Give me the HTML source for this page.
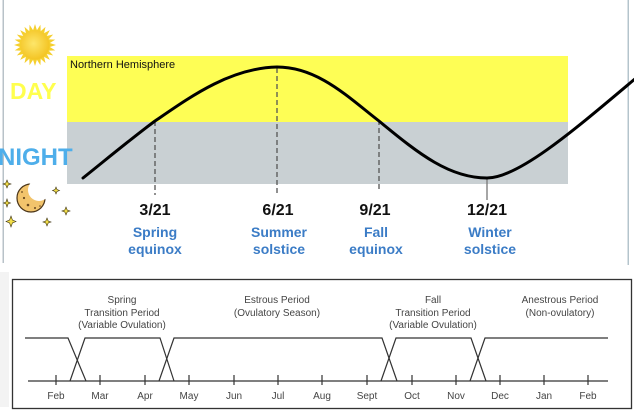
<!DOCTYPE html>
<html><head><meta charset="utf-8"><style>
html,body{margin:0;padding:0;background:#fff;}
body{width:634px;height:412px;overflow:hidden;}
svg{display:block;}
</style></head><body>
<svg width="634" height="412" viewBox="0 0 634 412" xmlns="http://www.w3.org/2000/svg" font-family="Liberation Sans, Arial, sans-serif">
  <defs>
    <radialGradient id="sg" cx="0.45" cy="0.45" r="0.6">
      <stop offset="0" stop-color="#fde66a"/>
      <stop offset="1" stop-color="#f3c21e"/>
    </radialGradient>
    <mask id="mm">
      <rect x="0" y="170" width="80" height="60" fill="#fff"/>
      <circle cx="39" cy="190" r="11" fill="#000"/>
    </mask>
  </defs>
  <!-- side lines -->
  <rect x="2.5" y="0" width="1.5" height="263" fill="#b8c2c8"/>
  <rect x="627.5" y="0" width="1.5" height="265" fill="#b4c4cc"/>
  <rect x="0" y="272" width="9" height="135" fill="#f3f3f3"/>

  <!-- sun -->
  <g fill="#f5cf2e">
    <polygon points="35,24 32.8,31 37.2,31" transform="rotate(0 35 45)"/>
    <polygon points="35,24 32.8,31 37.2,31" transform="rotate(15 35 45)"/>
    <polygon points="35,24 32.8,31 37.2,31" transform="rotate(30 35 45)"/>
    <polygon points="35,24 32.8,31 37.2,31" transform="rotate(45 35 45)"/>
    <polygon points="35,24 32.8,31 37.2,31" transform="rotate(60 35 45)"/>
    <polygon points="35,24 32.8,31 37.2,31" transform="rotate(75 35 45)"/>
    <polygon points="35,24 32.8,31 37.2,31" transform="rotate(90 35 45)"/>
    <polygon points="35,24 32.8,31 37.2,31" transform="rotate(105 35 45)"/>
    <polygon points="35,24 32.8,31 37.2,31" transform="rotate(120 35 45)"/>
    <polygon points="35,24 32.8,31 37.2,31" transform="rotate(135 35 45)"/>
    <polygon points="35,24 32.8,31 37.2,31" transform="rotate(150 35 45)"/>
    <polygon points="35,24 32.8,31 37.2,31" transform="rotate(165 35 45)"/>
    <polygon points="35,24 32.8,31 37.2,31" transform="rotate(180 35 45)"/>
    <polygon points="35,24 32.8,31 37.2,31" transform="rotate(195 35 45)"/>
    <polygon points="35,24 32.8,31 37.2,31" transform="rotate(210 35 45)"/>
    <polygon points="35,24 32.8,31 37.2,31" transform="rotate(225 35 45)"/>
    <polygon points="35,24 32.8,31 37.2,31" transform="rotate(240 35 45)"/>
    <polygon points="35,24 32.8,31 37.2,31" transform="rotate(255 35 45)"/>
    <polygon points="35,24 32.8,31 37.2,31" transform="rotate(270 35 45)"/>
    <polygon points="35,24 32.8,31 37.2,31" transform="rotate(285 35 45)"/>
    <polygon points="35,24 32.8,31 37.2,31" transform="rotate(300 35 45)"/>
    <polygon points="35,24 32.8,31 37.2,31" transform="rotate(315 35 45)"/>
    <polygon points="35,24 32.8,31 37.2,31" transform="rotate(330 35 45)"/>
    <polygon points="35,24 32.8,31 37.2,31" transform="rotate(345 35 45)"/>
  </g>
  <circle cx="35" cy="45" r="14.5" fill="url(#sg)"/>

  <!-- day/night bands -->
  <rect x="67" y="56" width="501" height="66" fill="#fefe55"/>
  <rect x="67" y="122" width="501" height="62" fill="#c9d0d3"/>
  <text x="70" y="68" font-size="11" fill="#111">Northern Hemisphere</text>

  <text x="10" y="99" font-size="23" font-weight="bold" fill="#ffff4e">DAY</text>
  <text x="-2" y="165" font-size="24" font-weight="bold" fill="#4eaeea">NIGHT</text>

  <!-- moon -->
  <g mask="url(#mm)">
    <circle cx="31" cy="198" r="14" fill="#f2c46c" stroke="#4a3418" stroke-width="1.2"/>
  </g>
  <g fill="#6a4a20">
    <circle cx="24" cy="198" r="1.1"/><circle cx="28" cy="205" r="1.3"/><circle cx="35" cy="208" r="1"/><circle cx="22" cy="192" r="0.9"/><circle cx="40" cy="206" r="0.8"/>
  </g>
  <!-- stars -->
  <g fill="#f4e04a" stroke="#3a3010" stroke-width="0.6">
    <path d="M7,180 L8.2,183 L11,184 L8.2,185 L7,188 L5.8,185 L3,184 L5.8,183 Z"/>
    <path d="M56,187 L57,189.5 L59.5,190.5 L57,191.5 L56,194 L55,191.5 L52.5,190.5 L55,189.5 Z"/>
    <path d="M66,207 L67.2,210 L70,211 L67.2,212 L66,215 L64.8,212 L62,211 L64.8,210 Z"/>
    <path d="M7,199 L8,202 L10.5,203 L8,204 L7,207 L6,204 L3.5,203 L6,202 Z"/>
    <path d="M11,216 L12.4,220 L16,221.5 L12.4,223 L11,227 L9.6,223 L6,221.5 L9.6,220 Z"/>
    <path d="M47,218 L48.2,221 L51,222 L48.2,223 L47,226 L45.8,223 L43,222 L45.8,221 Z"/>
  </g>

  <!-- dashed markers -->
  <g stroke="#555" stroke-width="1.3" stroke-dasharray="5,3">
    <line x1="155" y1="121" x2="155" y2="195"/>
    <line x1="277" y1="68" x2="277" y2="195"/>
    <line x1="379" y1="120" x2="379" y2="190"/>
  </g>
  <line x1="487" y1="178" x2="487" y2="200" stroke="#777" stroke-width="1.3"/>

  <!-- curve -->
  <path d="M83,178 C108,158 132,138 155,121 C190,97 230,68 277,67 C318,67 348,97 379,121 C420,155 450,178 487,178 C520,178 580,125 642,73" fill="none" stroke="#000" stroke-width="3" stroke-linecap="round"/>

  <!-- labels -->
  <g font-size="16" font-weight="bold" fill="#111" text-anchor="middle">
    <text x="155" y="215">3/21</text>
    <text x="278" y="215">6/21</text>
    <text x="375" y="215">9/21</text>
    <text x="487" y="215">12/21</text>
  </g>
  <g font-size="14" font-weight="bold" fill="#3b7cc6" text-anchor="middle">
    <text x="155" y="237">Spring</text><text x="155" y="254">equinox</text>
    <text x="279" y="237">Summer</text><text x="279" y="254">solstice</text>
    <text x="376" y="237">Fall</text><text x="376" y="254">equinox</text>
    <text x="490" y="237">Winter</text><text x="490" y="254">solstice</text>
  </g>

  <!-- bottom chart -->
  <rect x="12.5" y="279.5" width="619" height="129" fill="#fff" stroke="#333" stroke-width="1.3"/>
  <g stroke="#333" stroke-width="1.2" fill="none">
    <line x1="28" y1="381" x2="608" y2="381"/>
    <polyline points="25,338 68,338 86,381"/>
    <polyline points="70,381 85,338 160,338 174,381"/>
    <polyline points="159,381 174,338 382,338 397,381"/>
    <polyline points="381,381 396,338 471,338 486,381"/>
    <polyline points="470,381 485,338 608,338"/>
    <line x1="56" y1="375" x2="56" y2="385"/>
    <line x1="100" y1="375" x2="100" y2="385"/>
    <line x1="145" y1="375" x2="145" y2="385"/>
    <line x1="189" y1="375" x2="189" y2="385"/>
    <line x1="234" y1="375" x2="234" y2="385"/>
    <line x1="278" y1="375" x2="278" y2="385"/>
    <line x1="322" y1="375" x2="322" y2="385"/>
    <line x1="367" y1="375" x2="367" y2="385"/>
    <line x1="412" y1="375" x2="412" y2="385"/>
    <line x1="456" y1="375" x2="456" y2="385"/>
    <line x1="500" y1="375" x2="500" y2="385"/>
    <line x1="544" y1="375" x2="544" y2="385"/>
    <line x1="588" y1="375" x2="588" y2="385"/>
  </g>
  <g font-size="10" fill="#444" text-anchor="middle">
    <text x="56" y="399">Feb</text>
    <text x="100" y="399">Mar</text>
    <text x="145" y="399">Apr</text>
    <text x="189" y="399">May</text>
    <text x="234" y="399">Jun</text>
    <text x="278" y="399">Jul</text>
    <text x="322" y="399">Aug</text>
    <text x="367" y="399">Sept</text>
    <text x="412" y="399">Oct</text>
    <text x="456" y="399">Nov</text>
    <text x="500" y="399">Dec</text>
    <text x="544" y="399">Jan</text>
    <text x="588" y="399">Feb</text>

    <text x="122" y="303">Spring</text>
    <text x="122" y="316">Transition Period</text>
    <text x="122" y="328">(Variable Ovulation)</text>
    <text x="277" y="303">Estrous Period</text>
    <text x="277" y="316">(Ovulatory Season)</text>
    <text x="433" y="303">Fall</text>
    <text x="433" y="316">Transition Period</text>
    <text x="433" y="328">(Variable Ovulation)</text>
    <text x="560" y="303">Anestrous Period</text>
    <text x="560" y="316">(Non-ovulatory)</text>
  </g>
</svg>
</body></html>
